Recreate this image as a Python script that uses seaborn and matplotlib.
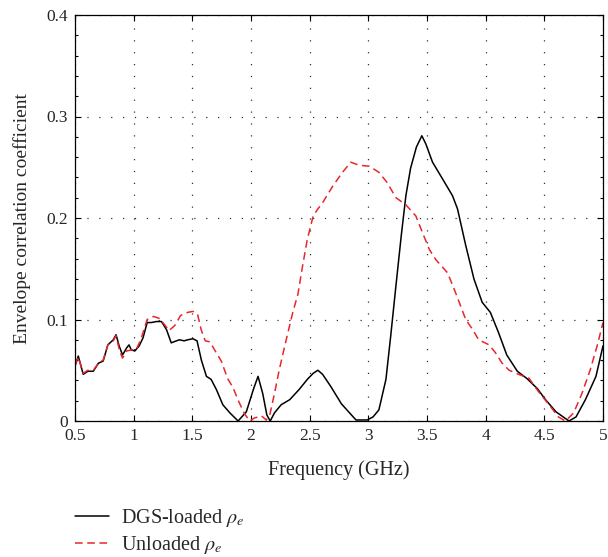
import matplotlib
matplotlib.use("Agg")
import matplotlib.pyplot as plt
import seaborn as sns
import pandas as pd
from matplotlib.ticker import MultipleLocator

freq_dgs = [0.5, 0.528, 0.57, 0.61, 0.656, 0.70, 0.74, 0.78, 0.826, 0.85, 0.876, 0.905, 0.94, 0.96, 0.98,
            1.01, 1.047, 1.08, 1.115, 1.15, 1.195, 1.237, 1.28, 1.32, 1.365, 1.39, 1.43, 1.46, 1.505, 1.54,
            1.577, 1.62, 1.66, 1.705, 1.76, 1.82, 1.89, 1.96, 2.02, 2.06, 2.10, 2.135, 2.164, 2.20, 2.257,
            2.33, 2.41, 2.48, 2.53, 2.57, 2.61, 2.68, 2.77, 2.84, 2.895, 2.99, 3.04, 3.09, 3.15, 3.19,
            3.235, 3.28, 3.32, 3.36, 3.41, 3.456, 3.49, 3.547, 3.63, 3.717, 3.76, 3.83, 3.90, 3.97, 4.04,
            4.11, 4.18, 4.27, 4.35, 4.44, 4.51, 4.60, 4.71, 4.77, 4.85, 4.94, 5.0]
rho_dgs = [0.054, 0.064, 0.046, 0.049, 0.049, 0.057, 0.059, 0.075, 0.080, 0.085, 0.074, 0.065, 0.072, 0.075, 0.070,
           0.069, 0.074, 0.082, 0.097, 0.097, 0.098, 0.098, 0.090, 0.077, 0.079, 0.080, 0.079, 0.080, 0.081, 0.079,
           0.060, 0.044, 0.041, 0.031, 0.016, 0.008, 0.0, 0.009, 0.031, 0.044, 0.027, 0.006, 0.0, 0.008, 0.016,
           0.021, 0.031, 0.041, 0.047, 0.050, 0.046, 0.034, 0.017, 0.008, 0.001, 0.001, 0.004, 0.011, 0.041, 0.083,
           0.133, 0.182, 0.222, 0.249, 0.270, 0.281, 0.273, 0.255, 0.239, 0.222, 0.209, 0.173, 0.140, 0.117, 0.107,
           0.087, 0.065, 0.049, 0.042, 0.032, 0.021, 0.009, 0.0, 0.004, 0.021, 0.044, 0.074]

freq_unl = [0.5, 0.528, 0.57, 0.61, 0.656, 0.70, 0.74, 0.78, 0.826, 0.85, 0.88, 0.905, 0.94, 0.98, 1.02,
            1.06, 1.115, 1.17, 1.22, 1.27, 1.30, 1.35, 1.40, 1.46, 1.505, 1.545, 1.575, 1.61, 1.65, 1.69,
            1.747, 1.80, 1.846, 1.90, 1.945, 1.99, 2.03, 2.09, 2.13, 2.16, 2.20, 2.24, 2.30, 2.356, 2.40,
            2.44, 2.48, 2.53, 2.57, 2.61, 2.70, 2.78, 2.85, 2.92, 3.01, 3.09, 3.16, 3.235, 3.32, 3.405,
            3.46, 3.52, 3.575, 3.675, 3.745, 3.83, 3.89, 3.94, 4.03, 4.085, 4.14, 4.20, 4.28, 4.37, 4.45,
            4.54, 4.62, 4.68, 4.75, 4.82, 4.89, 4.95, 5.0]
rho_unl = [0.055, 0.063, 0.047, 0.050, 0.050, 0.057, 0.060, 0.075, 0.079, 0.084, 0.069, 0.062, 0.069, 0.070, 0.070,
           0.080, 0.100, 0.103, 0.101, 0.094, 0.089, 0.094, 0.104, 0.107, 0.108, 0.105, 0.090, 0.079, 0.078, 0.070,
           0.059, 0.042, 0.033, 0.018, 0.007, 0.0, 0.003, 0.005, 0.001, 0.006, 0.027, 0.050, 0.080, 0.107, 0.125,
           0.153, 0.179, 0.202, 0.209, 0.215, 0.232, 0.245, 0.255, 0.252, 0.251, 0.245, 0.235, 0.220, 0.213, 0.202,
           0.186, 0.169, 0.159, 0.146, 0.126, 0.100, 0.090, 0.080, 0.075, 0.067, 0.057, 0.050, 0.046, 0.042, 0.029,
           0.016, 0.004, 0.0, 0.008, 0.027, 0.050, 0.074, 0.097]

x_ticks = [0.5, 1, 1.5, 2, 2.5, 3, 3.5, 4, 4.5, 5]
x_tick_labels = ["0.5", "1", "1.5", "2", "2.5", "3", "3.5", "4", "4.5", "5"]
y_ticks = [0, 0.1, 0.2, 0.3, 0.4]
y_tick_labels = ["0", "0.1", "0.2", "0.3", "0.4"]
label_dgs = r"DGS-loaded $\rho_e$"
label_unl = r"Unloaded $\rho_e$"

sns.set_style("ticks")
plt.rcParams["font.family"] = ["Liberation Serif", "DejaVu Serif"]
plt.rcParams["mathtext.fontset"] = "stix"

fig = plt.figure(figsize=(6.08, 5.57), dpi=100)
ax = fig.add_axes([75 / 608, 1 - 421 / 557, (603 - 75) / 608, (421 - 15) / 557])

df_dgs = pd.DataFrame({"f": freq_dgs, "r": rho_dgs})
df_unl = pd.DataFrame({"f": freq_unl, "r": rho_unl})

sns.lineplot(data=df_dgs, x="f", y="r", ax=ax, color="black", linewidth=1.1, label=label_dgs, legend=False)
sns.lineplot(data=df_unl, x="f", y="r", ax=ax, color="#e8262c", linewidth=1.1, label=label_unl, legend=False)
ax.lines[1].set_dashes([5, 3])

ax.set_xlim(0.5, 5)
ax.set_ylim(0, 0.4)
ax.set_xticks(x_ticks)
ax.set_xticklabels(x_tick_labels)
ax.set_yticks(y_ticks)
ax.set_yticklabels(y_tick_labels)
ax.yaxis.set_minor_locator(MultipleLocator(0.02))

ax.grid(True, which="major", color="#333333", linestyle=(0, (1, 8.5)), linewidth=0.9)
ax.tick_params(which="both", direction="in", top=True, right=True, labelsize=12.5, color="black")
ax.tick_params(which="major", length=4, width=0.8, pad=5)
ax.tick_params(which="minor", length=2.5, width=0.8)
for s in ax.spines.values():
    s.set_linewidth(0.9)
    s.set_color("black")

ax.set_xlabel("Frequency (GHz)", fontsize=14.5, labelpad=12)
ax.set_ylabel("Envelope correlation coefficient", fontsize=14, labelpad=11)

handles, labels = ax.get_legend_handles_labels()
fig.legend(handles, labels, loc="upper left", bbox_to_anchor=(67 / 608, 1 - 499 / 557),
           frameon=False, fontsize=14.5, handlelength=1.7, handletextpad=0.6, labelspacing=0.25,
           borderaxespad=0)

fig.savefig("out.png", dpi=100)
